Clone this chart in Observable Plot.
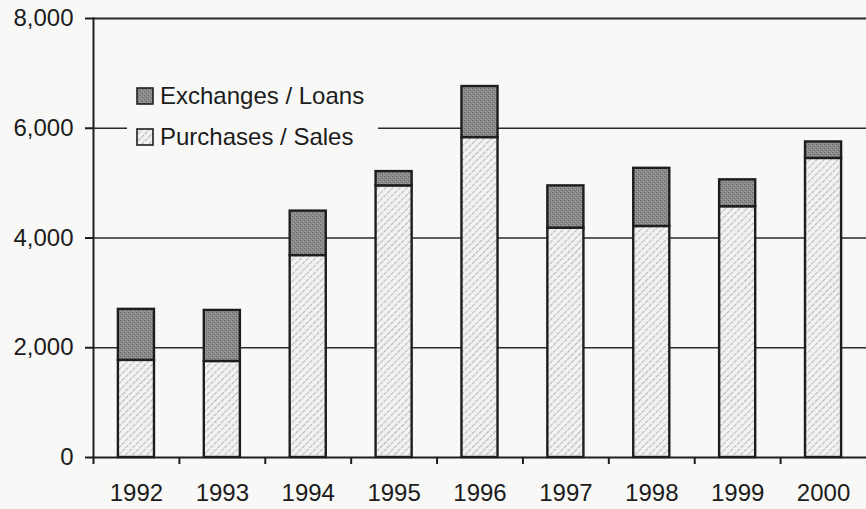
<!DOCTYPE html>
<html><head><meta charset="utf-8">
<script src="https://cdn.jsdelivr.net/npm/d3@7"></script>
<script src="https://cdn.jsdelivr.net/npm/@observablehq/plot@0.6"></script>
<style>
html,body{margin:0;padding:0;background:#f8f8f6;}
#wrap{position:relative;width:866px;height:509px;overflow:hidden;}
#legend{position:absolute;left:127px;top:76px;width:251px;height:76px;background:#f8f8f6;
  font-family:"Liberation Sans",Arial,sans-serif;font-size:24px;color:#1c1c1c;}
.row{position:absolute;left:9px;display:flex;align-items:center;height:30px;}
.row svg{margin-right:6px;}
</style></head>
<body><div id="wrap"></div>
<script>
const years = ["1992","1993","1994","1995","1996","1997","1998","1999","2000"];
const purchases = [1770,1750,3680,4950,5830,4180,4210,4570,5450];
const exchanges = [930,930,810,260,930,770,1060,490,300];
const yTicks = [0,2000,4000,6000,8000];
const gridTicks = [2000,4000,6000,8000];
const seriesNames = ["Exchanges / Loans","Purchases / Sales"];

const rows = years.map((y,i)=>({year:y, p:purchases[i], e:exchanges[i]}));
const W = 866, H = 509, ML = 93;
const step = (W - ML)/years.length;

const chart = Plot.plot({
  width: W, height: H,
  marginLeft: ML, marginRight: 0, marginTop: 18, marginBottom: 52,
  style: {background:"transparent", fontFamily:"'Liberation Sans', Arial, sans-serif", fontSize:"24px", color:"#1c1c1c", overflow:"visible"},
  x: {domain: years, paddingInner: 0.58, paddingOuter: 0.29, round: false, axis: null, label: null},
  y: {domain: [0, 8000], axis: null, label: null},
  marks: [
    Plot.ruleY(gridTicks, {stroke:"#2a2a2a", strokeWidth: d => d === 8000 ? 2.2 : 1.5}),
    Plot.barY(rows, {x:"year", y1:0, y2:"p", fill:"url(#hatch)", stroke:"#1e1e1e", strokeWidth:2.4}),
    Plot.barY(rows, {x:"year", y1:"p", y2:d=>d.p+d.e, fill:"url(#stip)", stroke:"#1e1e1e", strokeWidth:2.4}),
    Plot.ruleY([0], {stroke:"#1e1e1e", strokeWidth:2}),
    Plot.frame({anchor:"left", stroke:"#1e1e1e", strokeWidth:2}),
    Plot.axisY({ticks: yTicks, tickFormat: d3.format(","), tickSize: 8, tickPadding: 12, stroke:"#1e1e1e", strokeWidth:2, fill:"#1c1c1c", label:null}),
    Plot.axisX({tickSize: 7, tickFormat: () => "", dx: -step/2, stroke:"#1e1e1e", strokeWidth:2, label:null}),
    Plot.axisX({tickSize: 0, tickPadding: 26, fill:"#1c1c1c", label:null})
  ]
});

d3.select(chart).insert("defs", ":first-child").html(`
  <pattern id="hatch" width="5" height="5" patternUnits="userSpaceOnUse" patternTransform="rotate(45)">
    <rect width="5" height="5" fill="#f1f1ef"/>
    <line x1="0" y1="0" x2="0" y2="5" stroke="#9a9a9a" stroke-width="1.3" stroke-dasharray="3 1"/>
  </pattern>
  <pattern id="stip" width="4" height="4" patternUnits="userSpaceOnUse">
    <rect width="4" height="4" fill="#8a8a8a"/>
    <rect x="0" y="0" width="1" height="1" fill="#666"/>
    <rect x="2" y="2" width="1" height="1" fill="#666"/>
    <rect x="3" y="1" width="1" height="1" fill="#a4a4a4"/>
    <rect x="1" y="3" width="1" height="1" fill="#a4a4a4"/>
  </pattern>`);

const wrap = document.getElementById("wrap");
wrap.appendChild(chart);

const legend = document.createElement("div");
legend.id = "legend";
const fills = ["url(#stip)", "url(#hatch)"];
seriesNames.forEach((name, i) => {
  const r = document.createElement("div");
  r.className = "row";
  r.style.top = (5 + i*41) + "px";
  r.innerHTML = `<svg width="18" height="18"><rect x="1" y="1" width="16" height="16" fill="${fills[i]}" stroke="#1e1e1e" stroke-width="1.6"/></svg><span>${name}</span>`;
  legend.appendChild(r);
});
wrap.appendChild(legend);
</script>
</body></html>
